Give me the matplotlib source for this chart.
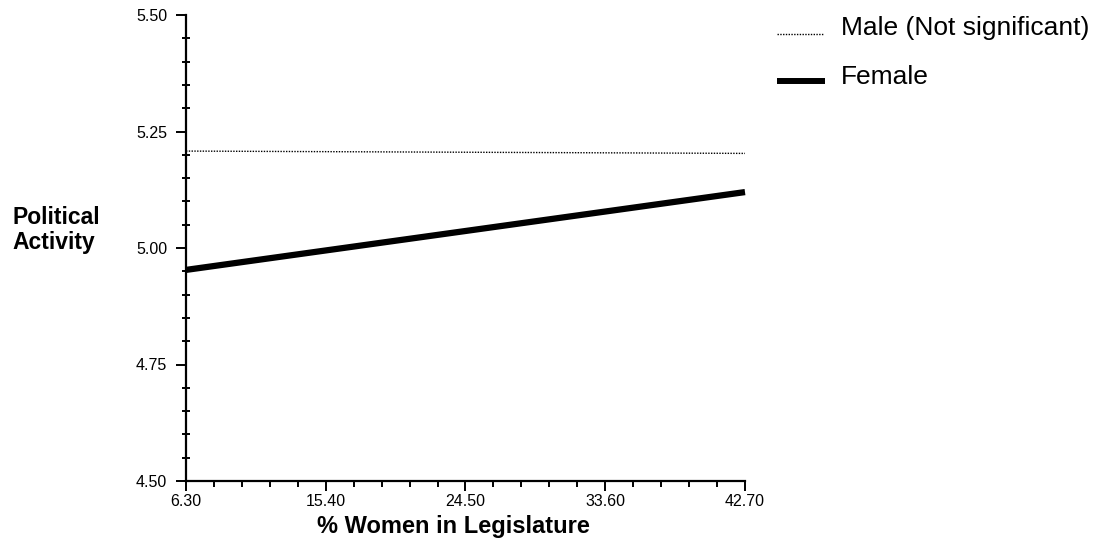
import matplotlib
matplotlib.use("Agg")
import matplotlib.pyplot as plt
from matplotlib.lines import Line2D
from matplotlib.ticker import MultipleLocator, FixedLocator, FormatStrFormatter

plt.rcParams['font.family'] = ['Liberation Sans', 'DejaVu Sans']

x_vals = [6.30, 42.70]
male = [5.208, 5.203]
female = [4.953, 5.120]
x_ticks = [6.30, 15.40, 24.50, 33.60, 42.70]
y_ticks = [4.50, 4.75, 5.00, 5.25, 5.50]
series_labels = ['Male (Not significant)', 'Female']

W, H = 1095, 546
fig = plt.figure(figsize=(W/100, H/100), dpi=100)
ax = fig.add_axes([186/W, 1-481/H, (745-186)/W, (481-15)/H])

male_style = dict(color='black', linestyle=(0, (1, 1)), linewidth=1.0)
female_style = dict(color='black', linewidth=4.5, solid_capstyle='butt')

ax.plot(x_vals, male, label=series_labels[0], clip_on=False, **male_style)
ax.plot(x_vals, female, label=series_labels[1], clip_on=False, **female_style)

ax.set_xlim(6.30, 42.70)
ax.set_ylim(4.50, 5.50)
ax.xaxis.set_major_locator(FixedLocator(x_ticks))
ax.xaxis.set_minor_locator(MultipleLocator(1.82, offset=6.30))
ax.yaxis.set_major_locator(FixedLocator(y_ticks))
ax.yaxis.set_minor_locator(MultipleLocator(0.05))
ax.xaxis.set_major_formatter(FormatStrFormatter('%.2f'))
ax.yaxis.set_major_formatter(FormatStrFormatter('%.2f'))

for s in ['top', 'right']:
    ax.spines[s].set_visible(False)
for s in ['left', 'bottom']:
    ax.spines[s].set_linewidth(1.6)

ax.tick_params(axis='both', which='major', direction='out', length=7, width=1.4,
               labelsize=11.5)
ax.tick_params(axis='y', which='major', pad=6.5)
ax.tick_params(axis='x', which='major', pad=2)
ax.tick_params(axis='y', which='minor', direction='inout', length=6, width=1.4)
ax.tick_params(axis='x', which='minor', direction='out', length=4, width=1.4)

ax.set_xlabel('% Women in Legislature', fontsize=17, fontweight='bold', va='center')
ax.xaxis.set_label_coords(0.4785, -0.0987)
ax.set_ylabel('Political\nActivity', fontsize=16.5, fontweight='bold', rotation=0,
              ha='left', va='center', multialignment='left', linespacing=1.1)
ax.yaxis.set_label_coords(-0.311, 0.5386)

# Legend drawn manually (handle sits at the text baseline, as in the reference)
legend_rows = [(series_labels[0], male_style, 34, 35, 823),
               (series_labels[1], dict(female_style, linewidth=4.3), 81, 84, 825)]
for label, style, y_line, y_text, x_end in legend_rows:
    fig.add_artist(Line2D([777/W, x_end/W], [1-y_line/H, 1-y_line/H], **style))
    fig.text(841/W, 1-y_text/H, label, fontsize=19, ha='left', va='baseline')

fig.savefig('out.png', dpi=100)
